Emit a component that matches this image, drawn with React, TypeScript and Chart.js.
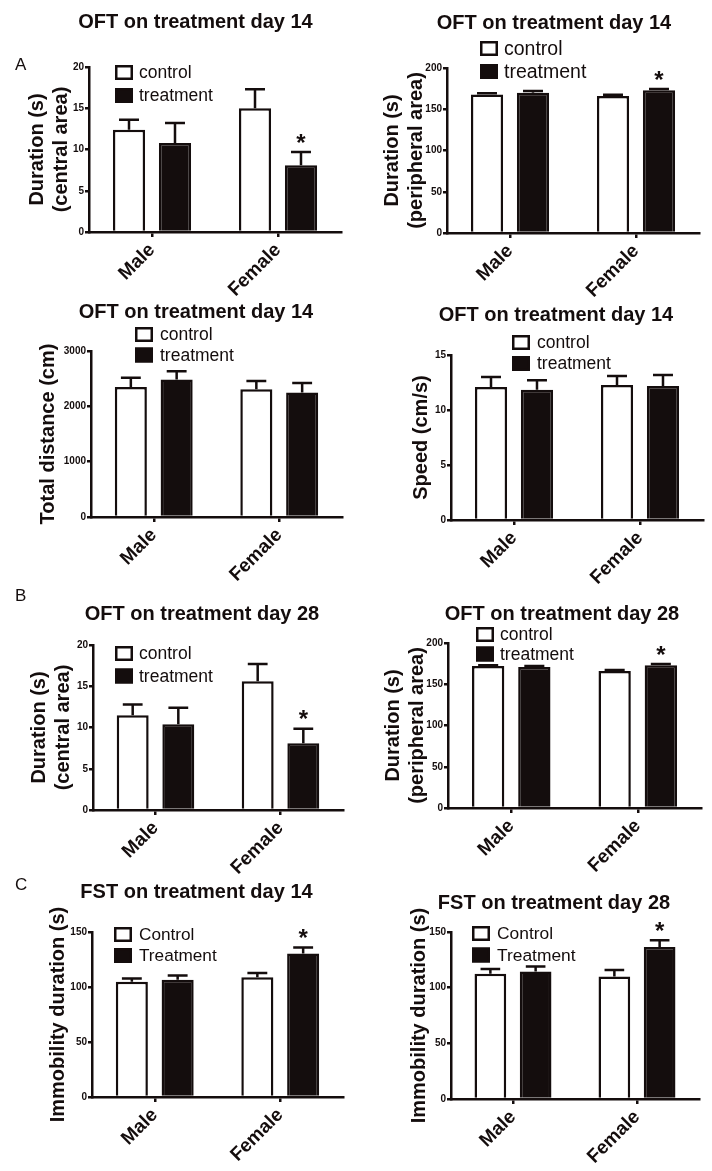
import React, { useEffect, useRef } from "react";
import { Chart, registerables } from "chart.js";

Chart.register(...registerables);

// ---------- data ----------
const categories = ["Male", "Female"];
const legendLower = ["control", "treatment"];
const legendUpper = ["Control", "Treatment"];

// A: OFT day 14, central area duration (s)
const centralD14Control = [12.4, 15.0];
const centralD14ControlSem = [1.2, 2.3];
const centralD14Treatment = [10.8, 8.1];
const centralD14TreatmentSem = [2.4, 1.6];
const centralTicks = [0, 5, 10, 15, 20];

// A: OFT day 14, peripheral area duration (s)
const peripheralD14Control = [168, 166];
const peripheralD14ControlSem = [1.5, 1.5];
const peripheralD14Treatment = [170, 173];
const peripheralD14TreatmentSem = [2.0, 1.5];
const peripheralTicks = [0, 50, 100, 150, 200];

// A: OFT day 14, total distance (cm)
const distanceD14Control = [2350, 2310];
const distanceD14ControlSem = [165, 150];
const distanceD14Treatment = [2485, 2250];
const distanceD14TreatmentSem = [150, 170];
const distanceTicks = [0, 1000, 2000, 3000];

// A: OFT day 14, speed (cm/s)
const speedD14Control = [12.1, 12.27];
const speedD14ControlSem = [0.9, 0.82];
const speedD14Treatment = [11.85, 12.18];
const speedD14TreatmentSem = [0.85, 1.0];
const speedTicks = [0, 5, 10, 15];

// B: OFT day 28, central area duration (s)
const centralD28Control = [11.5, 15.6];
const centralD28ControlSem = [1.3, 2.1];
const centralD28Treatment = [10.4, 8.1];
const centralD28TreatmentSem = [2.0, 1.75];

// B: OFT day 28, peripheral area duration (s)
const peripheralD28Control = [172, 166];
const peripheralD28ControlSem = [1.0, 1.2];
const peripheralD28Treatment = [171, 173];
const peripheralD28TreatmentSem = [1.0, 1.5];

// C: FST immobility duration (s)
const fstD14Control = [104.7, 108.9];
const fstD14ControlSem = [3.0, 3.9];
const fstD14Treatment = [106.5, 130.4];
const fstD14TreatmentSem = [4.0, 5.4];
const fstD28Control = [112.5, 110.1];
const fstD28ControlSem = [4.2, 5.7];
const fstD28Treatment = [114.6, 136.5];
const fstD28TreatmentSem = [4.5, 6.0];
const immobilityTicks = [0, 50, 100, 150];

// ---------- styling / layout ----------
const FONT = "'Liberation Sans', Arial, Helvetica, sans-serif";
const INK = "#140d0d";

type PanelSpec = {
  left: number; top: number; w: number; h: number;
  plot: { l: number; t: number; r: number; b: number };
  title: string; titleX: number; titleY: number;
  yTitle: string | string[]; yTitlePad: number;
  ticks: number[];
  control: number[]; controlSem: number[];
  treatment: number[]; treatmentSem: number[];
  legendLabels: string[];
  legend: { x: number; y1: number; y2: number; tx: number; size: number };
  starIndex: number | null;
  letter?: { text: string; x: number; y: number };
};

const panels: PanelSpec[] = [
  {
    left: 0, top: 0, w: 356, h: 300, plot: { l: 89, t: 67, r: 341, b: 232 },
    title: "OFT on treatment day 14", titleX: 195.5, titleY: 22.5,
    yTitle: ["Duration (s)", "(central area)"], yTitlePad: 25, ticks: centralTicks,
    control: centralD14Control, controlSem: centralD14ControlSem,
    treatment: centralD14Treatment, treatmentSem: centralD14TreatmentSem,
    legendLabels: legendLower, legend: { x: 115, y1: 72.5, y2: 95.5, tx: 139, size: 17.5 },
    starIndex: 1, letter: { text: "A", x: 15, y: 64 },
  },
  {
    left: 356, top: 0, w: 356, h: 300, plot: { l: 91, t: 68, r: 343, b: 233 },
    title: "OFT on treatment day 14", titleX: 198, titleY: 23.5,
    yTitle: ["Duration (s)", "(peripheral area)"], yTitlePad: 24, ticks: peripheralTicks,
    control: peripheralD14Control, controlSem: peripheralD14ControlSem,
    treatment: peripheralD14Treatment, treatmentSem: peripheralD14TreatmentSem,
    legendLabels: legendLower, legend: { x: 124, y1: 48.5, y2: 71.5, tx: 148, size: 19.5 },
    starIndex: 1,
  },
  {
    left: 0, top: 290, w: 356, h: 300, plot: { l: 91, t: 61, r: 342, b: 227 },
    title: "OFT on treatment day 14", titleX: 196, titleY: 22,
    yTitle: "Total distance (cm)", yTitlePad: 36, ticks: distanceTicks,
    control: distanceD14Control, controlSem: distanceD14ControlSem,
    treatment: distanceD14Treatment, treatmentSem: distanceD14TreatmentSem,
    legendLabels: legendLower, legend: { x: 135, y1: 44.5, y2: 65, tx: 160, size: 17.5 },
    starIndex: null,
  },
  {
    left: 356, top: 290, w: 356, h: 300, plot: { l: 95, t: 65, r: 347, b: 230 },
    title: "OFT on treatment day 14", titleX: 200, titleY: 25.5,
    yTitle: "Speed (cm/s)", yTitlePad: 53, ticks: speedTicks,
    control: speedD14Control, controlSem: speedD14ControlSem,
    treatment: speedD14Treatment, treatmentSem: speedD14TreatmentSem,
    legendLabels: legendLower, legend: { x: 156, y1: 52.5, y2: 73.5, tx: 181, size: 17.5 },
    starIndex: null,
  },
  {
    left: 0, top: 580, w: 356, h: 300, plot: { l: 93, t: 65, r: 343, b: 230 },
    title: "OFT on treatment day 28", titleX: 202, titleY: 34.5,
    yTitle: ["Duration (s)", "(central area)"], yTitlePad: 27, ticks: centralTicks,
    control: centralD28Control, controlSem: centralD28ControlSem,
    treatment: centralD28Treatment, treatmentSem: centralD28TreatmentSem,
    legendLabels: legendLower, legend: { x: 115, y1: 73.5, y2: 96, tx: 139, size: 17.5 },
    starIndex: 1, letter: { text: "B", x: 15, y: 14.5 },
  },
  {
    left: 356, top: 580, w: 356, h: 300, plot: { l: 92, t: 63, r: 345, b: 228 },
    title: "OFT on treatment day 28", titleX: 206, titleY: 34.5,
    yTitle: ["Duration (s)", "(peripheral area)"], yTitlePad: 25, ticks: peripheralTicks,
    control: peripheralD28Control, controlSem: peripheralD28ControlSem,
    treatment: peripheralD28Treatment, treatmentSem: peripheralD28TreatmentSem,
    legendLabels: legendLower, legend: { x: 120, y1: 54.5, y2: 74, tx: 144, size: 17.5 },
    starIndex: 1,
  },
  {
    left: 0, top: 870, w: 356, h: 301, plot: { l: 92, t: 62, r: 343, b: 227 },
    title: "FST on treatment day 14", titleX: 196.5, titleY: 22,
    yTitle: "Immobility duration (s)", yTitlePad: 46, ticks: immobilityTicks,
    control: fstD14Control, controlSem: fstD14ControlSem,
    treatment: fstD14Treatment, treatmentSem: fstD14TreatmentSem,
    legendLabels: legendUpper, legend: { x: 114, y1: 64.5, y2: 85.5, tx: 139, size: 17.2 },
    starIndex: 1, letter: { text: "C", x: 15, y: 13.5 },
  },
  {
    left: 356, top: 870, w: 356, h: 301, plot: { l: 95, t: 62, r: 343, b: 229 },
    title: "FST on treatment day 28", titleX: 198, titleY: 33.5,
    yTitle: "Immobility duration (s)", yTitlePad: 51, ticks: immobilityTicks,
    control: fstD28Control, controlSem: fstD28ControlSem,
    treatment: fstD28Treatment, treatmentSem: fstD28TreatmentSem,
    legendLabels: legendUpper, legend: { x: 116, y1: 63.5, y2: 85, tx: 141, size: 17.4 },
    starIndex: 1,
  },
];

function makeDecorPlugin(p: PanelSpec) {
  return {
    id: "panelDecor",
    afterDraw(chart: any) {
      const ctx = chart.ctx as CanvasRenderingContext2D;
      const yScale = chart.scales.y;
      ctx.save();
      // error bars (mean + SEM)
      const sems = [p.controlSem, p.treatmentSem];
      const vals = [p.control, p.treatment];
      ctx.strokeStyle = INK;
      ctx.lineWidth = 2.5;
      ctx.lineCap = "butt";
      for (let d = 0; d < 2; d++) {
        const meta = chart.getDatasetMeta(d);
        meta.data.forEach((bar: any, i: number) => {
          const yTop = yScale.getPixelForValue(vals[d][i]);
          const yErr = yScale.getPixelForValue(vals[d][i] + sems[d][i]);
          const cw = bar.width * 0.31;
          ctx.beginPath();
          ctx.moveTo(bar.x, yTop);
          ctx.lineTo(bar.x, yErr);
          ctx.moveTo(bar.x - cw, yErr);
          ctx.lineTo(bar.x + cw, yErr);
          ctx.stroke();
          if (d === 1 && p.starIndex === i) {
            ctx.fillStyle = INK;
            ctx.font = `bold 24px ${FONT}`;
            ctx.textAlign = "center";
            ctx.textBaseline = "alphabetic";
            ctx.fillText("*", bar.x, yErr - 15 + 13.7);
          }
        });
      }
      // chart title
      ctx.fillStyle = INK;
      ctx.font = `bold 20px ${FONT}`;
      ctx.textAlign = "center";
      ctx.textBaseline = "middle";
      ctx.fillText(p.title, p.titleX, p.titleY);
      // legend
      const L = p.legend;
      const bw = 18, bh = 15;
      ctx.lineWidth = 2.5;
      [L.y1, L.y2].forEach((cy, k) => {
        ctx.fillStyle = k === 0 ? "#ffffff" : INK;
        ctx.fillRect(L.x, cy - bh / 2, bw, bh);
        ctx.strokeStyle = INK;
        ctx.strokeRect(L.x + 1.25, cy - bh / 2 + 1.25, bw - 2.5, bh - 2.5);
        ctx.fillStyle = INK;
        ctx.font = `${L.size}px ${FONT}`;
        ctx.textAlign = "left";
        ctx.textBaseline = "middle";
        ctx.fillText(p.legendLabels[k], L.tx, cy + 1);
      });
      // panel letter
      if (p.letter) {
        ctx.font = `17px ${FONT}`;
        ctx.textAlign = "left";
        ctx.textBaseline = "alphabetic";
        ctx.fillText(p.letter.text, p.letter.x, p.letter.y + 6);
      }
      ctx.restore();
    },
  };
}

function Panel({ p }: { p: PanelSpec }) {
  const ref = useRef<HTMLCanvasElement | null>(null);
  useEffect(() => {
    if (!ref.current) return;
    const ticks = p.ticks;
    const chart = new Chart(ref.current, {
      type: "bar",
      data: {
        labels: categories,
        datasets: [
          {
            label: p.legendLabels[0], data: p.control, backgroundColor: "#ffffff",
            borderColor: INK, borderWidth: 2.5, categoryPercentage: 0.73, barPercentage: 0.7,
          },
          {
            label: p.legendLabels[1], data: p.treatment, backgroundColor: INK,
            borderColor: INK, borderWidth: 2.5, categoryPercentage: 0.73, barPercentage: 0.7,
          },
        ],
      },
      options: {
        responsive: false,
        animation: false,
        devicePixelRatio: 1,
        layout: { padding: { left: 0, top: p.plot.t, right: p.w - p.plot.r, bottom: 0 } },
        plugins: { legend: { display: false }, title: { display: false }, tooltip: { enabled: false } },
        scales: {
          x: {
            z: 1,
            offset: true,
            grid: { offset: false, drawOnChartArea: false, drawTicks: true, tickLength: 5, color: INK, lineWidth: 2.5 },
            border: { display: true, color: INK, width: 2.5 },
            ticks: {
              autoSkip: false, minRotation: 45, maxRotation: 45, padding: 2, color: INK,
              font: { family: FONT, size: 19, weight: "bold" },
            },
            afterFit: (s: any) => { s.height = p.h - p.plot.b; },
          },
          y: {
            z: 1,
            min: ticks[0],
            max: ticks[ticks.length - 1],
            afterBuildTicks: (s: any) => { s.ticks = ticks.map((v) => ({ value: v })); },
            ticks: {
              padding: 1, color: INK, font: { family: FONT, size: 10, weight: "bold" },
              callback: (v: any) => String(v),
            },
            grid: { drawOnChartArea: false, drawTicks: true, tickLength: 4, color: INK, lineWidth: 2.5 },
            border: { display: true, color: INK, width: 2.5 },
            title: {
              display: true, text: p.yTitle, color: INK,
              font: { family: FONT, size: 20, weight: "bold", lineHeight: 1.2 },
              padding: { top: p.yTitlePad, bottom: 0 },
            },
            afterFit: (s: any) => { s.width = p.plot.l; },
          },
        },
      } as any,
      plugins: [makeDecorPlugin(p)],
    });
    return () => chart.destroy();
  }, [p]);
  return (
    <canvas
      ref={ref}
      width={p.w}
      height={p.h}
      style={{ position: "absolute", left: p.left, top: p.top, width: p.w, height: p.h }}
    />
  );
}

export default function App() {
  return (
    <div style={{ position: "absolute", left: 0, top: 0, width: 712, height: 1171, background: "#ffffff" }}>
      {panels.map((p, i) => (
        <Panel key={i} p={p} />
      ))}
    </div>
  );
}
